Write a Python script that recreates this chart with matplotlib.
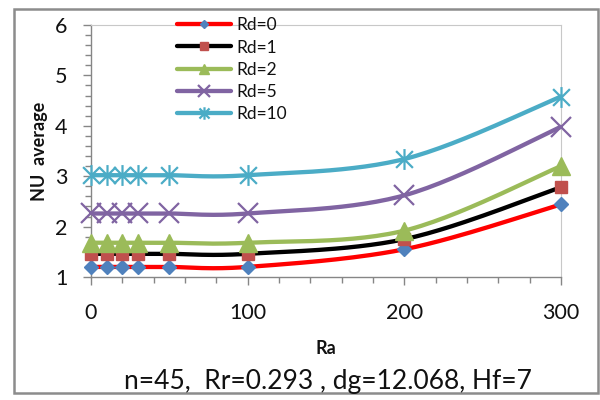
import numpy as np
import matplotlib
matplotlib.use("Agg")
import matplotlib.pyplot as plt
from matplotlib.path import Path
from matplotlib.patches import Rectangle
from matplotlib.ticker import MultipleLocator

plt.rcParams['font.family'] = ['Lato', 'DejaVu Sans']

# Data
ra = [0, 10, 20, 30, 50, 100, 200, 300]
nu_rd0 = [1.20, 1.20, 1.20, 1.20, 1.20, 1.20, 1.55, 2.44]
nu_rd1 = [1.46, 1.46, 1.46, 1.46, 1.46, 1.46, 1.75, 2.78]
nu_rd2 = [1.68, 1.68, 1.68, 1.68, 1.68, 1.68, 1.92, 3.20]
nu_rd5 = [2.26, 2.26, 2.26, 2.26, 2.26, 2.26, 2.62, 3.98]
nu_rd10 = [3.02, 3.02, 3.02, 3.02, 3.02, 3.02, 3.34, 4.58]
labels = ['Rd=0', 'Rd=1', 'Rd=2', 'Rd=5', 'Rd=10']
subtitle = 'n=45,  Rr=0.293 , dg=12.068, Hf=7'

# Asterisk marker: an X with a vertical stroke
star_path = Path(
    [(-0.5, -0.5), (0.5, 0.5), (-0.5, 0.5), (0.5, -0.5), (0, -0.62), (0, 0.62)],
    [Path.MOVETO, Path.LINETO, Path.MOVETO, Path.LINETO, Path.MOVETO, Path.LINETO])

styles = [
    dict(line='#FF0000', marker='D', mfc='#4F81BD', mec='#4F81BD', ms=6.8, mew=1),
    dict(line='#000000', marker='s', mfc='#C0504D', mec='#C0504D', ms=8.5, mew=1),
    dict(line='#9BBB59', marker='^', mfc='#9BBB59', mec='#9BBB59', ms=13, mew=1),
    dict(line='#8064A2', marker='x', mfc='none', mec='#8064A2', ms=15, mew=1.6),
    dict(line='#4BACC6', marker=star_path, mfc='none', mec='#4BACC6', ms=15, mew=1.6),
]


def smooth(x, y, n=30):
    """Cubic Bezier smoothing through the points (spreadsheet-style)."""
    x = np.asarray(x, float)
    y = np.asarray(y, float)
    pts = np.column_stack([x, y])
    out = [pts[0]]
    m = len(pts)
    for i in range(m - 1):
        p0 = pts[i - 1] if i > 0 else pts[i]
        p1 = pts[i]
        p2 = pts[i + 1]
        p3 = pts[i + 2] if i + 2 < m else pts[i + 1]
        c1 = p1 + (p2 - p0) / 6.0
        c2 = p2 - (p3 - p1) / 6.0
        t = np.linspace(0, 1, n)[1:, None]
        seg = ((1 - t) ** 3) * p1 + 3 * ((1 - t) ** 2) * t * c1 \
            + 3 * (1 - t) * t ** 2 * c2 + t ** 3 * p2
        out.extend(seg)
    out = np.array(out)
    return out[:, 0], out[:, 1]


fig = plt.figure(figsize=(6, 4), dpi=100)
ax = fig.add_axes([91 / 600, 1 - 277 / 400, 470 / 600, 252 / 400])

series = [nu_rd0, nu_rd1, nu_rd2, nu_rd5, nu_rd10]
handles = []
for vals, st, lab in zip(series, styles, labels):
    sx, sy = smooth(ra, vals)
    ax.plot(sx, sy, color=st['line'], lw=3.1, solid_capstyle='round', zorder=2)
    ax.plot(ra, vals, ls='none', marker=st['marker'], ms=st['ms'],
            mfc=st['mfc'], mec=st['mec'], mew=st['mew'], clip_on=False, zorder=3)
    h, = ax.plot([], [], color=st['line'], lw=3.1, marker=st['marker'],
                 ms=st['ms'] * 0.6, mfc=st['mfc'], mec=st['mec'], mew=st['mew'],
                 solid_capstyle='round', label=lab)
    handles.append(h)

ax.set_xlim(0, 300)
ax.set_ylim(1, 6)
ax.xaxis.set_major_locator(MultipleLocator(100))
ax.xaxis.set_minor_locator(MultipleLocator(20))
ax.yaxis.set_major_locator(MultipleLocator(1))
ax.yaxis.set_minor_locator(MultipleLocator(0.2))

axis_grey = '#868686'
for s in ['left', 'bottom']:
    ax.spines[s].set_color(axis_grey)
    ax.spines[s].set_linewidth(1.0)
for s in ['top', 'right']:
    ax.spines[s].set_color('#C8C8C8')
    ax.spines[s].set_linewidth(0.8)

ax.tick_params(which='major', direction='out', length=6, width=1, color=axis_grey,
               labelsize=15.5, labelcolor='#111111')
ax.tick_params(which='minor', direction='out', length=4, width=1, color=axis_grey)
ax.tick_params(axis='y', which='major', pad=11)
ax.tick_params(axis='x', which='major', pad=13)
ax.tick_params(top=False, right=False, which='both')

ax.set_xlabel('Ra', fontsize=13, fontweight='bold', labelpad=12, color='#111111')
ax.set_ylabel('NU  average', fontsize=13, fontweight='bold', labelpad=5,
              color='#111111')

leg = ax.legend(handles=handles, loc='upper left', bbox_to_anchor=(0.183, 1.03),
                frameon=False, fontsize=12.5, handlelength=3.1, handletextpad=0.3,
                labelspacing=0.35, borderpad=0, borderaxespad=0)
for t in leg.get_texts():
    t.set_color('#111111')

fig.text(328 / 600, 1 - 389 / 400, subtitle, fontsize=19, ha='center',
         va='baseline', color='#111111')

fig.patches.append(Rectangle((14 / 600, 7 / 400), 584 / 600, 384 / 400,
                             transform=fig.transFigure, fill=False,
                             edgecolor='#8C8C8C', lw=1.8))

fig.savefig('out.png', dpi=100)
